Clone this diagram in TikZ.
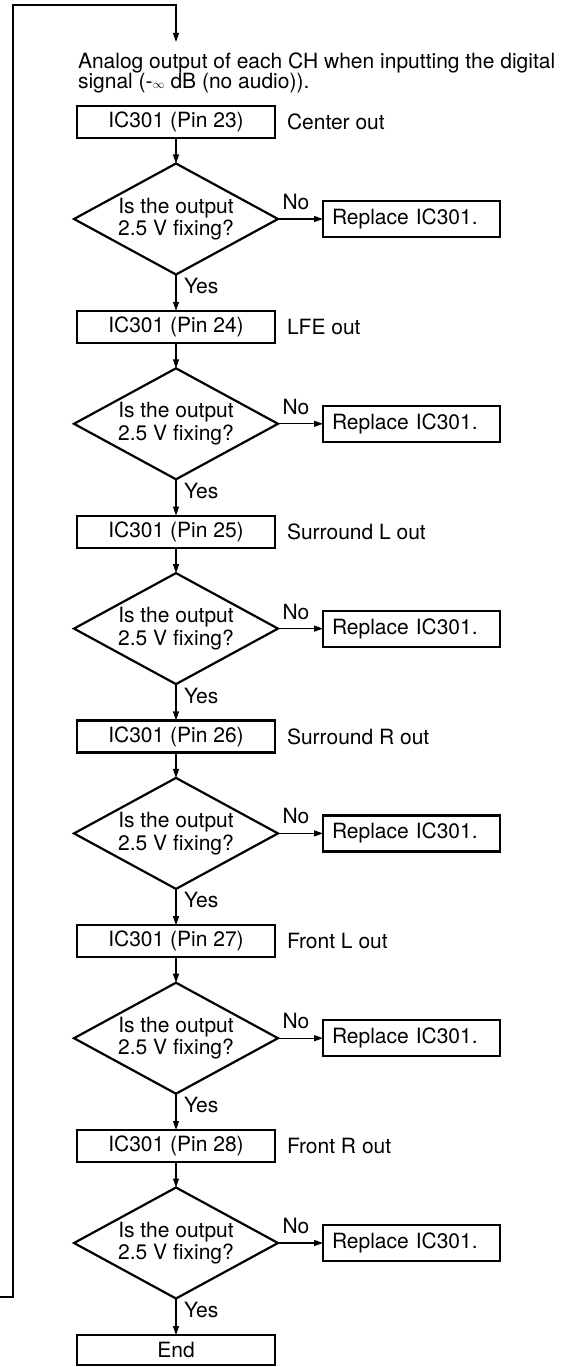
\documentclass[tikz,border=0pt]{standalone}
\usepackage{fontspec}
\setmainfont{TeX Gyre Heros}
\usetikzlibrary{shapes.geometric,arrows.meta,calc}
\begin{document}
\begin{tikzpicture}[x=1pt,y=-1pt,
  font=\fontsize{21}{21}\selectfont,
  every node/.style={inner sep=0pt, outer sep=0pt},
  pinbox/.style={draw, line width=2.2pt, minimum width=198pt, minimum height=32pt},
  endbox/.style={draw, line width=2.2pt, minimum width=198pt, minimum height=30pt},
  repbox/.style={draw, line width=2.2pt, minimum width=177pt, minimum height=36pt, text width=159pt, align=left},
  decision/.style={draw, diamond, line width=2.2pt, minimum width=204pt, minimum height=111pt, aspect=1.84, align=center},
  sidelabel/.style={anchor=west},
  conn/.style={line width=1.2pt, -{Triangle[length=9pt,width=6pt]}}
]
\useasboundingbox (0,0) rectangle (571,1367);

\node[anchor=north west, align=left, font=\fontsize{21}{20}\selectfont] (intro) at (78,53)
  {Analog output of each CH when inputting the digital\\signal (-{\fontsize{13}{13}\selectfont$\infty$} dB (no audio)).};

\foreach \i/\pin/\lab in {0/23/Center out, 1/24/LFE out, 2/25/Surround L out, 3/26/Surround R out, 4/27/Front L out, 5/28/Front R out}{
  \pgfmathsetmacro\yb{122+204.8*\i}
  \pgfmathsetmacro\yd{219+204.8*\i}
  \node[pinbox] (b\i) at (176,\yb) {IC301 (Pin \pin)};
  \node[sidelabel] (l\i) at (287,\yb) {\lab};
  \node[decision] (d\i) at (176,\yd) {\raisebox{-2.5pt}{\shortstack{Is the output\\[-0.5pt]2.5 V fixing?}}};
  \node[repbox] (r\i) at (411.5,\yd) {Replace IC301.};
  \node (n\i) at ($(d\i.east)+(18,-17)$) {No};
  \node[anchor=west] (y\i) at ($(d\i.south)+(8,11.5)$) {Yes};
  \draw[conn] (b\i.south) -- (d\i.north);
  \draw[conn] (d\i.east) -- (r\i.west);
}
\node[endbox] (b6) at (176,1350) {End};
\foreach \i [evaluate=\i as \j using int(\i+1)] in {0,...,5}{
  \draw[conn] (d\i.south) -- (b\j.north);
}

\coordinate (lin) at (0,1297);
\coordinate (c1) at (13,1297);
\coordinate (c2) at (13,5);
\coordinate (c3) at (176,5);
\coordinate (tip) at (176,42);
\draw[conn] (lin) -- (c1) -- (c2) -- (c3) -- (tip);
\end{tikzpicture}
\end{document}
